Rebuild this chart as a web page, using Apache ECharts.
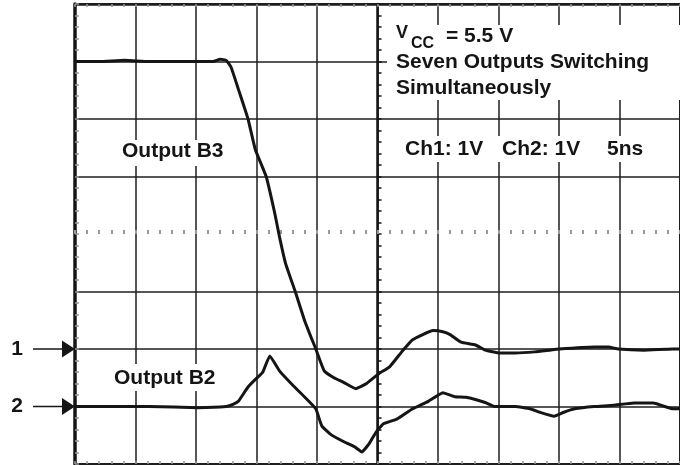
<!DOCTYPE html>
<html>
<head>
<meta charset="utf-8">
<script src="https://cdn.jsdelivr.net/npm/echarts@6/dist/echarts.min.js"></script>
<style>
  html, body { margin: 0; padding: 0; background: #ffffff; }
  #chart { width: 680px; height: 465px; }
</style>
</head>
<body>
<div id="chart"></div>
<script>
// Oscilloscope screen: 10 divisions of 5 ns across, 8 divisions of 1 V down.
// Time is measured from the centre of the screen, voltage in divisions from the centre line.
const timeRange = [-25, 25];   // ns
const divRange = [-4, 4];      // divisions
const nsPerDiv = 5;
const ch1Ground = -2;          // channel 1 ground marker, divisions from centre
const ch2Ground = -3;          // channel 2 ground marker

// Channel 1 - Output B3 (V relative to its ground)
const b3Time = [-25, -23, -20.9, -18.9, -16.8, -14.8, -13.6, -13, -12.5, -12.1, -11.5, -10.7, -10.1, -9.2,
  -8.5, -8.1, -7.6, -6.8, -6, -5.1, -4.4, -3.6, -2.8, -1.8, -0.9, 0.1, 1, 2, 2.9, 4.6, 5.4, 6, 6.9,
  8.1, 8.9, 10.1, 11.4, 13, 14.2, 15, 17.9, 19.1, 19.9, 22, 24.4, 25];
const b3Volts = [5.0, 5.0, 5.02, 5.0, 5.0, 5.0, 5.0, 5.04, 5.02, 4.9, 4.52, 4.0, 3.47, 3.0,
  2.37, 1.95, 1.49, 1.0, 0.48, 0, -0.38, -0.5, -0.58, -0.69, -0.6, -0.43, -0.31, -0.05, 0.16, 0.32, 0.3, 0.25, 0.12,
  0.07, -0.02, -0.07, -0.07, -0.05, -0.02, 0, 0.035, 0.035, 0, -0.02, 0, 0];

// Channel 2 - Output B2 (V relative to its ground)
const b2Time = [-25, -23, -18.9, -14.8, -12.5, -11.9, -11.5, -10.7, -10.0, -9.5, -8.9, -8.1, -7.0, -6.0,
  -5.1, -4.6, -3.9, -2.9, -1.9, -1.3, -0.7, -0.1, 0.5, 1.6, 2.9, 4.2, 5.4, 6.4, 7.3, 8.9, 9.7, 11.4,
  12.6, 13.4, 14.6, 15.4, 16.3, 17.9, 19.5, 21.2, 22.8, 23.6, 24.4, 25];
const b2Volts = [0, 0, 0, -0.02, 0, 0.04, 0.09, 0.34, 0.49, 0.59, 0.88, 0.62, 0.37, 0.16,
  -0.04, -0.34, -0.48, -0.60, -0.70, -0.79, -0.65, -0.44, -0.30, -0.22, -0.04, 0.09, 0.24, 0.17, 0.16, 0.07, 0, 0,
  -0.04, -0.10, -0.17, -0.10, -0.04, 0, 0.02, 0.06, 0.06, 0.01, -0.04, -0.04];

const voltsPerDiv = 1;
const toTrace = (times, volts, ground) => times.map((t, i) => [t, ground + volts[i] / voltsPerDiv]);

const FONT = '"Liberation Sans", Arial, Helvetica, sans-serif';
const INK = '#151515';
const GRID_INK = '#1e1e1e';
const DOT_INK = '#999999';

const chart = echarts.init(document.getElementById('chart'), null, { renderer: 'canvas' });

function hiddenLabel() { return { show: false }; }

// Horizontal graticule lines: solid except the centre one, which only carries tick marks
const rowColors = [];
for (let v = divRange[0]; v <= divRange[1]; v++) rowColors.push(v === 0 ? 'rgba(0,0,0,0)' : GRID_INK);

const option = {
  backgroundColor: '#ffffff',
  animation: false,
  grid: {
    left: 75, top: 4, width: 612, height: 460,
    show: true, borderColor: GRID_INK, borderWidth: 2, backgroundColor: 'transparent'
  },
  xAxis: [
    { // centre line ticks (upward) + vertical graticule lines
      type: 'value', min: timeRange[0], max: timeRange[1], interval: nsPerDiv,
      axisLine: { show: false, onZero: true, onZeroAxisIndex: 0 },
      axisTick: { show: true, inside: true, length: 4, lineStyle: { color: DOT_INK, width: 2 } },
      minorTick: { show: true, splitNumber: 5, length: 4, lineStyle: { color: DOT_INK, width: 2 } },
      axisLabel: hiddenLabel(),
      splitLine: { show: true, lineStyle: { color: GRID_INK, width: 1.5 } }
    },
    { // centre line ticks (downward)
      type: 'value', min: timeRange[0], max: timeRange[1], interval: nsPerDiv,
      axisLine: { show: false, onZero: true, onZeroAxisIndex: 0 },
      axisTick: { show: true, inside: false, length: 4, lineStyle: { color: DOT_INK, width: 2 } },
      minorTick: { show: true, splitNumber: 5, length: 4, lineStyle: { color: DOT_INK, width: 2 } },
      axisLabel: hiddenLabel(), splitLine: { show: false }
    },
    { // top border
      type: 'value', position: 'top', min: timeRange[0], max: timeRange[1], interval: nsPerDiv,
      axisLine: { show: true, onZero: false, lineStyle: { color: GRID_INK, width: 2.5 } },
      axisTick: { show: true, inside: true, length: 3, lineStyle: { color: DOT_INK, width: 1.5 } },
      minorTick: { show: true, splitNumber: 5, length: 3, lineStyle: { color: DOT_INK, width: 1.5 } },
      axisLabel: hiddenLabel(), splitLine: { show: false }
    },
    { // bottom border
      type: 'value', position: 'bottom', min: timeRange[0], max: timeRange[1], interval: nsPerDiv,
      axisLine: { show: true, onZero: false, lineStyle: { color: GRID_INK, width: 2 } },
      axisTick: { show: true, inside: true, length: 3, lineStyle: { color: DOT_INK, width: 1.5 } },
      minorTick: { show: true, splitNumber: 5, length: 3, lineStyle: { color: DOT_INK, width: 1.5 } },
      axisLabel: hiddenLabel(), splitLine: { show: false }
    }
  ],
  yAxis: [
    { // centre vertical line with ticks (right side) + horizontal graticule lines
      type: 'value', min: divRange[0], max: divRange[1], interval: 1,
      axisLine: { show: true, onZero: true, onZeroAxisIndex: 0, lineStyle: { color: INK, width: 2.5 } },
      axisTick: { show: true, inside: true, length: 4, lineStyle: { color: INK, width: 1.5 } },
      minorTick: { show: true, splitNumber: 5, length: 4, lineStyle: { color: INK, width: 1.5 } },
      axisLabel: hiddenLabel(),
      splitLine: { show: true, lineStyle: { color: rowColors, width: 1.5 } }
    },
    { // centre vertical line ticks (left side)
      type: 'value', min: divRange[0], max: divRange[1], interval: 1,
      axisLine: { show: false, onZero: true, onZeroAxisIndex: 0 },
      axisTick: { show: true, inside: false, length: 4, lineStyle: { color: INK, width: 1.5 } },
      minorTick: { show: true, splitNumber: 5, length: 4, lineStyle: { color: INK, width: 1.5 } },
      axisLabel: hiddenLabel(), splitLine: { show: false }
    },
    { // left border
      type: 'value', position: 'left', min: divRange[0], max: divRange[1], interval: 1,
      axisLine: { show: true, onZero: false, lineStyle: { color: INK, width: 3.5 } },
      axisTick: { show: true, inside: true, length: 4, lineStyle: { color: DOT_INK, width: 1.5 } },
      minorTick: { show: true, splitNumber: 5, length: 4, lineStyle: { color: DOT_INK, width: 1.5 } },
      axisLabel: hiddenLabel(), splitLine: { show: false }
    }
  ],
  series: [
    {
      name: 'Output B3', type: 'line', xAxisIndex: 0, yAxisIndex: 0,
      data: toTrace(b3Time, b3Volts, ch1Ground),
      showSymbol: false, smooth: 0.12, z: 5,
      lineStyle: { color: INK, width: 3 }
    },
    {
      name: 'Output B2', type: 'line', xAxisIndex: 0, yAxisIndex: 0,
      data: toTrace(b2Time, b2Volts, ch2Ground),
      showSymbol: false, smooth: 0.12, z: 5,
      lineStyle: { color: INK, width: 3 }
    }
  ]
};
chart.setOption(option);

// Annotations: white label panels and the channel ground markers
const bold = (size) => 'bold ' + size + 'px ' + FONT;
const label = (text, x, y, size) => ({
  type: 'text', x: x, y: y, z: 60,
  style: { text: text, font: bold(size), fill: INK, verticalAlign: 'middle', align: 'left' }
});
const panel = (x, y, w, h) => ({
  type: 'rect', z: 50, shape: { x: x, y: y, width: w, height: h }, style: { fill: '#ffffff' }
});

function groundMarker(name, level) {
  const y = chart.convertToPixel({ yAxisIndex: 0 }, level);
  const x0 = chart.convertToPixel({ xAxisIndex: 0 }, timeRange[0]);
  return [
    { type: 'line', z: 60, shape: { x1: 33, y1: y, x2: x0 - 12, y2: y }, style: { stroke: INK, lineWidth: 1.5 } },
    { type: 'polygon', z: 60, shape: { points: [[x0 - 13, y - 8.5], [x0, y], [x0 - 13, y + 8.5]] }, style: { fill: INK } },
    { type: 'text', z: 60, x: 17, y: y, style: { text: name, font: bold(21), fill: INK, align: 'center', verticalAlign: 'middle' } }
  ];
}

chart.setOption({
  graphic: [
    panel(387, 25, 300, 75),
    panel(398, 136, 254, 26),
    panel(116, 140, 114, 26),
    panel(108, 364, 116, 27),
    label('V', 396, 33, 18),
    label('CC', 411, 44, 16),
    label('= 5.5 V', 446, 36, 21),
    label('Seven Outputs Switching', 396, 62, 21),
    label('Simultaneously', 396, 88, 21),
    label('Ch1: 1V', 405, 149, 21),
    label('Ch2: 1V', 502, 149, 21),
    label('5ns', 607, 149, 21),
    label('Output B3', 122, 151, 21),
    label('Output B2', 114, 378, 21)
  ].concat(groundMarker('1', ch1Ground), groundMarker('2', ch2Ground))
});
</script>
</body>
</html>
